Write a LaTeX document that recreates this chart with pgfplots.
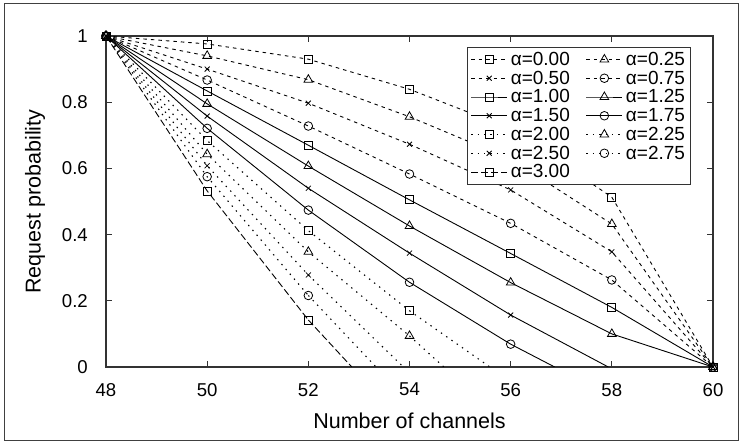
\documentclass[border=0pt]{standalone}
\usepackage{fontspec}
\setmainfont{Liberation Sans}
\usepackage{pgfplots}
\pgfplotsset{compat=1.18}
\pgfplotsset{
  base/.style={black, line width=0.9bp, mark options={solid, line width=0.8bp}},
  da/.style={base, dash pattern=on 3.5bp off 4bp},
  so/.style={base, solid},
  dt/.style={base, line width=1.1bp, dash pattern=on 1.4bp off 5bp},
  dd/.style={base, dash pattern=on 7bp off 3bp},
  msq/.style={mark=square, mark size=4bp},
  mtr/.style={mark=triangle, mark size=5bp},
  mx/.style={mark=x, mark size=3.5bp},
  mo/.style={mark=o, mark size=4.3bp},
}
\begin{document}
\begin{tikzpicture}
\useasboundingbox (0,0) rectangle (742bp,444bp);
\fill[white] (0,0) rectangle (742bp,444bp);
\draw[black!75, line width=1bp] (4bp,3.5bp) rectangle (738.5bp,440.5bp);
\begin{axis}[
  at={(106bp,77bp)}, anchor=south west,
  scale only axis, width=607bp, height=331bp,
  xmin=48, xmax=60, ymin=0, ymax=1,
  xtick={48,50,52,54,56,58,60},
  ytick={0,0.2,0.4,0.6,0.8,1},
  tick align=inside, major tick length=6bp,
  axis line style={black!80, line width=1.2bp},
  tick style={black!80, line width=1bp},
  /pgf/number format/assume math mode=true,
  ticklabel style={font=\fontsize{18.6bp}{20bp}\selectfont},
  yticklabel style={anchor=east, inner xsep=0pt, xshift=-18bp},
  xticklabel style={anchor=north, inner ysep=0pt, yshift=-16bp},
  xlabel={Number of channels}, ylabel={Request probability},
  every axis x label/.style={at={(axis description cs:0.5,-0.187)}, anchor=base, font=\fontsize{21.5bp}{23bp}\selectfont},
  every axis y label/.style={at={(axis description cs:-0.117,0.5)}, rotate=90, anchor=center, font=\fontsize{21.5bp}{23bp}\selectfont},
  legend columns=2,
  legend cell align=left,
  legend style={at={(0.595,0.968)}, anchor=north west,
    font=\fontsize{19bp}{20bp}\selectfont, draw=black!80, line width=1bp,
    inner xsep=3bp, inner ysep=3bp,
    nodes={inner xsep=3bp, inner ysep=2bp},
    /tikz/every even column/.append style={column sep=13bp}},
  legend image code/.code={\draw[mark repeat=2,mark phase=2,#1] plot coordinates {(0bp,0bp)(18bp,0bp)(36bp,0bp)};},
]
% alpha = 0.00
\addplot[da, msq] coordinates {(48,1)(50,0.976)(52,0.930)(54,0.839)(56,0.720)(58,0.513)(60,0)};
\addlegendentry{α=0.00}
% alpha = 0.25
\addplot[da, mtr] coordinates {(48,1)(50,0.940)(52,0.868)(54,0.756)(56,0.628)(58,0.432)(60,0)};
\addlegendentry{α=0.25}
% alpha = 0.50
\addplot[da, mx] coordinates {(48,1)(50,0.900)(52,0.797)(54,0.673)(56,0.535)(58,0.348)(60,0)};
\addlegendentry{α=0.50}
% alpha = 0.75
\addplot[da, mo] coordinates {(48,1)(50,0.867)(52,0.728)(54,0.583)(56,0.434)(58,0.263)(60,0)};
\addlegendentry{α=0.75}
% alpha = 1.00
\addplot[so, msq] coordinates {(48,1)(50,0.834)(52,0.670)(54,0.505)(56,0.343)(58,0.180)(60,0)};
\addlegendentry{α=1.00}
% alpha = 1.25
\addplot[so, mtr] coordinates {(48,1)(50,0.795)(52,0.607)(54,0.426)(56,0.255)(58,0.100)(60,0)};
\addlegendentry{α=1.25}
% alpha = 1.50
\addplot[so, mx] coordinates {(48,1)(50,0.758)(52,0.540)(54,0.344)(56,0.157)};
\addlegendentry{α=1.50}
% alpha = 1.75
\addplot[so, mo] coordinates {(48,1)(50,0.721)(52,0.474)(54,0.256)(56,0.069)};
\addlegendentry{α=1.75}
% alpha = 2.00
\addplot[dt, msq] coordinates {(48,1)(50,0.684)(52,0.412)(54,0.170)};
\addlegendentry{α=2.00}
% alpha = 2.25
\addplot[dt, mtr] coordinates {(48,1)(50,0.643)(52,0.348)(54,0.094)};
\addlegendentry{α=2.25}
% alpha = 2.50
\addplot[dt, mx] coordinates {(48,1)(50,0.608)(52,0.278)};
\addlegendentry{α=2.50}
% alpha = 2.75
\addplot[dt, mo] coordinates {(48,1)(50,0.575)(52,0.216)};
\addlegendentry{α=2.75}
% alpha = 3.00
\addplot[dd, msq] coordinates {(48,1)(50,0.532)(52,0.142)};
\addlegendentry{α=3.00}
% segments down to zero
\addplot[so, forget plot] coordinates {(56,0.157)(57.93,0)};
\addplot[so, forget plot] coordinates {(56,0.069)(56.87,0)};
\addplot[dt, forget plot] coordinates {(54,0.170)(55.59,0)};
\addplot[dt, forget plot] coordinates {(54,0.094)(54.68,0)};
\addplot[dt, forget plot] coordinates {(52,0.278)(53.88,0)};
\addplot[dt, forget plot] coordinates {(52,0.216)(53.34,0)};
\addplot[dd, forget plot] coordinates {(52,0.142)(52.86,0)};
\end{axis}
\end{tikzpicture}
\end{document}
